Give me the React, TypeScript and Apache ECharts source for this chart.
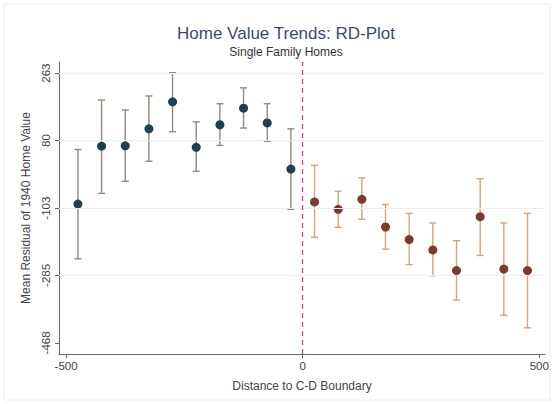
import React, { useEffect, useRef } from "react";
import * as echarts from "echarts";

const xLeft = [-475, -425, -375, -325, -275, -225, -175, -125, -75, -25];
const meanLeft = [-92, 65, 66, 112, 185, 62, 123, 168, 128, 3];
const loLeft = [-240, -63, -30, 24, 104, -3, 67, 114, 78, -106];
const hiLeft = [56, 190, 163, 201, 264, 131, 180, 223, 180, 112];

const xRight = [25, 75, 125, 175, 225, 275, 325, 375, 425, 475];
const meanRight = [-86, -106, -79, -154, -188, -216, -272, -126, -268, -272];
const loRight = [-182, -155, -133, -214, -256, -286, -352, -231, -393, -427];
const hiRight = [13, -57, -21, -93, -117, -143, -191, -23, -143, -117];

const yTicks = [-468, -285, -103, 80, 263];
const xTicks = [-500, 0, 500];

const FONT = "Liberation Sans, Arial, sans-serif";

function errorSeries(xs: number[], lo: number[], hi: number[], color: string) {
  return {
    type: "custom",
    data: xs.map((x, i) => [x, lo[i], hi[i]]),
    z: 2,
    silent: true,
    renderItem: (params: any, api: any) => {
      const x = api.value(0);
      const pLo = api.coord([x, api.value(1)]);
      const pHi = api.coord([x, api.value(2)]);
      const w = 3.5;
      const style = { stroke: color, lineWidth: 1.4 };
      return {
        type: "group",
        children: [
          { type: "line", shape: { x1: pLo[0], y1: pLo[1], x2: pHi[0], y2: pHi[1] }, style },
          { type: "line", shape: { x1: pLo[0] - w, y1: pLo[1], x2: pLo[0] + w, y2: pLo[1] }, style },
          { type: "line", shape: { x1: pHi[0] - w, y1: pHi[1], x2: pHi[0] + w, y2: pHi[1] }, style },
        ],
      };
    },
  };
}

export default function App() {
  const ref = useRef<HTMLDivElement>(null);
  useEffect(() => {
    if (!ref.current) return;
    const chart = echarts.init(ref.current, undefined, { renderer: "svg" });
    chart.setOption({
      animation: false,
      backgroundColor: "#ffffff",
      textStyle: { fontFamily: FONT },
      graphic: [
        {
          type: "rect",
          shape: { x: 4, y: 4, width: 546, height: 396 },
          style: { fill: "none", stroke: "#ececec", lineWidth: 1 },
          silent: true,
        },
        {
          type: "text",
          x: 286,
          y: 33,
          style: {
            text: "Home Value Trends: RD-Plot",
            fill: "#3d4b6b",
            font: `17px ${FONT}`,
            align: "center",
            verticalAlign: "middle",
          },
        },
        {
          type: "text",
          x: 286,
          y: 52,
          style: {
            text: "Single Family Homes",
            fill: "#333333",
            font: `12px ${FONT}`,
            align: "center",
            verticalAlign: "middle",
          },
        },
      ],
      grid: { left: 59, right: 9, top: 62, bottom: 50, containLabel: false },
      xAxis: {
        type: "value",
        min: -515,
        max: 512,
        name: "Distance to C-D Boundary",
        nameLocation: "middle",
        nameGap: 26,
        nameTextStyle: { color: "#444", fontSize: 12, fontFamily: FONT },
        axisLine: { show: true, onZero: false, lineStyle: { color: "#666", width: 1 } },
        axisTick: { show: true, customValues: xTicks, length: 4, lineStyle: { color: "#666" } },
        axisLabel: { customValues: xTicks, color: "#444", fontSize: 11.5, margin: 6, fontFamily: FONT },
        splitLine: { show: false },
      },
      yAxis: {
        type: "value",
        min: -498,
        max: 293,
        name: "Mean Residual of 1940 Home Value",
        nameLocation: "middle",
        nameRotate: 90,
        nameGap: 23,
        nameTextStyle: { color: "#444", fontSize: 12, fontFamily: FONT },
        axisLine: { show: true, onZero: false, lineStyle: { color: "#666", width: 1 } },
        axisTick: { show: true, customValues: yTicks, length: 4, lineStyle: { color: "#666" } },
        axisLabel: { customValues: yTicks, rotate: 90, color: "#444", fontSize: 11.5, margin: 7, fontFamily: FONT },
        splitLine: { show: false },
      },
      series: [
        {
          type: "line",
          data: [],
          markLine: {
            silent: true,
            symbol: "none",
            label: { show: false },
            lineStyle: { color: "#eeeeee", width: 1, type: "solid" },
            data: yTicks.slice(1).map((v) => ({ yAxis: v })),
          },
        },
        errorSeries(xLeft, loLeft, hiLeft, "#8f8d78"),
        errorSeries(xRight, loRight, hiRight, "#d8a27a"),
        {
          type: "scatter",
          data: xLeft.map((x, i) => [x, meanLeft[i]]),
          symbolSize: 9,
          z: 3,
          itemStyle: { color: "#20404f", opacity: 1 },
        },
        {
          type: "scatter",
          data: xRight.map((x, i) => [x, meanRight[i]]),
          symbolSize: 9,
          z: 3,
          itemStyle: { color: "#7d3a2e", opacity: 1 },
          markLine: {
            silent: true,
            symbol: "none",
            label: { show: false },
            lineStyle: { color: "#e0407f", width: 1.3, type: [5, 4] },
            data: [{ xAxis: 0 }],
          },
        },
      ],
    });
    return () => chart.dispose();
  }, []);
  return <div ref={ref} style={{ width: 554, height: 404, position: "absolute", left: 0, top: 0 }} />;
}
